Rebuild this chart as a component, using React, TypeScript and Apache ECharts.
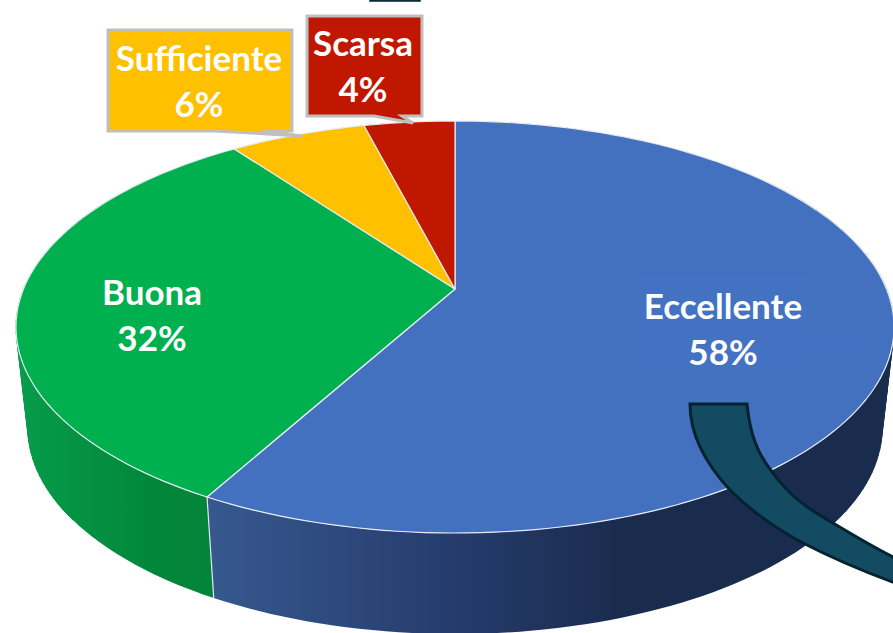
import React, { useEffect, useRef } from "react";
import * as echarts from "echarts";

const categories = ["Eccellente", "Buona", "Sufficiente", "Scarsa"];
const percentages = [58, 32, 6, 4];

const WIDTH = 893;
const HEIGHT = 633;
const FONT = "Lato, Carlito, 'Open Sans', sans-serif";

const topColors = ["#4371c0", "#00b04f", "#ffc000", "#c01800"];
const wallStops: [number, number, [number, string][]][] = [
  [207, 893, [[0, "#37598f"], [0.35, "#263c6e"], [0.6, "#1a2c4e"], [1, "#1a2c4e"]]],
  [18, 214, [[0, "#069c4a"], [0.7, "#02863a"], [1, "#02853a"]]],
  [230, 370, [[0, "#bf8c00"], [1, "#bf8c00"]]],
  [360, 460, [[0, "#901200"], [1, "#901200"]]],
];

// Perspective projection of the disc: the centre of the disc falls above the centre of its outline.
const PERSPECTIVE = 0.1845;
const topFace = { cx: 455, cy: 289, b: 431.5, a: 199 };
const bottomFace = { cx: 455, cy: 390, b: 419.8, a: 199 };

const project = (face: typeof topFace, share: number) => {
  const angle = share * Math.PI * 2;
  const u = Math.sin(angle);
  const v = -Math.cos(angle);
  const w = 1 - PERSPECTIVE * v;
  return [face.cx + (face.b * u) / w, face.cy + (face.a * v) / w];
};

const total = percentages.reduce((s, v) => s + v, 0);
const startShare = (i: number) =>
  percentages.slice(0, i).reduce((s, v) => s + v, 0) / total;

const rimShares = (i: number) => {
  const from = startShare(i);
  const to = from + percentages[i] / total;
  const steps = Math.max(8, Math.round((to - from) * 240));
  const shares: number[] = [];
  for (let k = 0; k <= steps; k++) shares.push(from + ((to - from) * k) / steps);
  return shares;
};

const rimPoints = (face: typeof topFace, i: number) =>
  rimShares(i).map((s) => project(face, s));

const labelCentres = [
  [723, 328],
  [152, 314],
  [199, 80],
  [363, 65],
];

const callouts: Record<number, { points: number[][]; fill: string }> = {
  2: {
    fill: "#ffc000",
    points: [[108, 30], [292, 30], [292, 131], [262, 131], [302, 136], [215, 131], [108, 131]],
  },
  3: {
    fill: "#c01800",
    points: [[307, 16], [422, 16], [422, 116], [402, 116], [413, 123], [374, 116], [307, 116]],
  },
};

const wallItem = (params: any, api: any) => {
  const i = params.dataIndex;
  api.value(0);
  const shares = rimShares(i);
  const upper = shares.map((s) => project(topFace, s));
  const lowerFwd = shares.map((s) => project(bottomFace, s));
  const lower = lowerFwd.slice().reverse();
  const [x0, x1, stops] = wallStops[i];
  const fill = new echarts.graphic.LinearGradient(
    x0, 0, x1, 0,
    stops.map(([offset, color]) => ({ offset, color })),
    true as any
  );
  const a = upper[0];
  const b = lowerFwd[0];
  const children: any[] = [
    { type: "polygon", shape: { points: upper.concat(lower) }, style: { fill, stroke: null } },
  ];
  // Near the silhouette the curves cross, so the side is swept by short generator quads.
  for (let k = 0; k < shares.length - 1; k++) {
    if (Math.abs(Math.sin(shares[k] * Math.PI * 2)) < 0.8) continue;
    children.push({
      type: "polygon",
      shape: { points: [upper[k], upper[k + 1], lowerFwd[k + 1], lowerFwd[k]] },
      style: { fill, stroke: fill, lineWidth: 0.6 },
    });
  }
  children.push({
    type: "line",
    shape: { x1: a[0], y1: a[1], x2: b[0], y2: b[1] },
    style: { stroke: "#dfe6ef", lineWidth: 1.2 },
  });
  return { type: "group", children };
};

const topItem = (params: any, api: any) => {
  const i = params.dataIndex;
  api.value(0);
  const points = [[topFace.cx, topFace.cy], ...rimPoints(topFace, i)];
  const children: any[] = [
    {
      type: "polygon",
      shape: { points },
      style: { fill: topColors[i], stroke: "#e6ecf4", lineWidth: 1.2, lineJoin: "round" },
    },
  ];
  const c = callouts[i];
  if (c) {
    children.push({
      type: "polygon",
      shape: { points: c.points },
      style: { fill: c.fill, stroke: "#bfbfbf", lineWidth: 3, lineJoin: "miter" },
    });
  }
  return { type: "group", children };
};

const labelItem = (params: any, api: any) => {
  const i = params.dataIndex;
  const value = api.value(0);
  const [lx, ly] = labelCentres[i];
  const children: any[] = [];
  if (i === 0) {
    children.push({
      type: "polygon",
      shape: { points: [[635, 278], [810, 278], [810, 335], [893, 340], [810, 360], [810, 377], [635, 377]] },
      style: { fill: "#4675c8", opacity: 0.3 },
    });
  }
  children.push({
    type: "text",
    style: {
      x: lx,
      y: ly,
      text: `${categories[i]}\n${value}%`,
      fill: "#ffffff",
      font: `bold 35px ${FONT}`,
      lineHeight: 46,
      align: "center",
      verticalAlign: "middle",
    },
  });
  return { type: "group", children };
};

const BAND_PATH =
  "M690 404 L747 404 C750 435 758 455 773 473 C790 497 810 510 833 523 C853 535 873 547 895 558 " +
  "L895 583 C860 570 830 557 803 543 C775 528 752 512 730 490 C705 463 690 435 690 404 Z";

echarts.graphic.registerShape("band", echarts.graphic.extendPath(BAND_PATH, {}) as any);

export default function App() {
  const ref = useRef<HTMLDivElement>(null);
  useEffect(() => {
    document.body.style.margin = "0";
    const chart = echarts.init(ref.current!, null, { renderer: "svg" });
    const data = categories.map((name, i) => ({ name, value: [percentages[i]] }));
    chart.setOption({
      animation: false,
      backgroundColor: "#ffffff",
      tooltip: { show: false },
      series: [
        { type: "custom", name: "walls", coordinateSystem: "none", silent: true, z: 1, renderItem: wallItem, data, clip: false },
        { type: "custom", name: "tops", coordinateSystem: "none", silent: true, z: 2, renderItem: topItem, data, clip: false },
        { type: "custom", name: "labels", coordinateSystem: "none", silent: true, z: 3, renderItem: labelItem, data, clip: false },
      ],
      graphic: [
        {
          type: "band",
          z: 10,
          style: { fill: "#134b63", stroke: "#04222f", lineWidth: 3 },
        },
        {
          type: "rect",
          z: 10,
          shape: { x: 370, y: -6, width: 50, height: 7 },
          style: { fill: "#134b63", stroke: "#04222f", lineWidth: 1.5 },
        },
      ],
    });
    return () => chart.dispose();
  }, []);
  return (
    <div
      ref={ref}
      style={{ position: "fixed", left: 0, top: 0, width: WIDTH, height: HEIGHT, overflow: "hidden" }}
    />
  );
}
